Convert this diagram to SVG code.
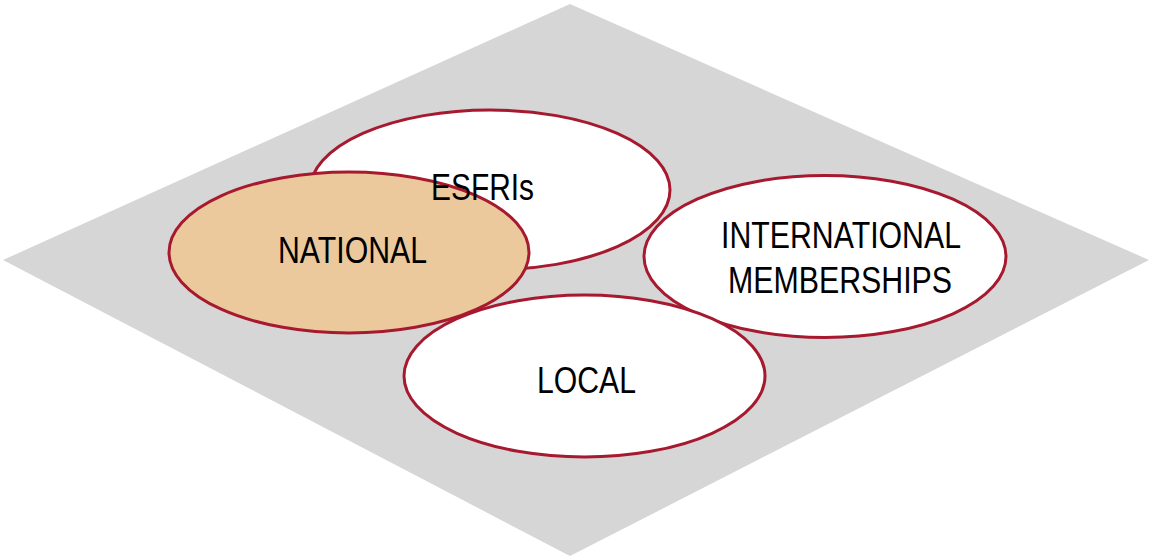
<svg xmlns="http://www.w3.org/2000/svg" width="1149" height="559" viewBox="0 0 1149 559">
<style>
.node{stroke:#A6192E;stroke-width:3;fill:#FFFFFF}
.nat{fill:#EBC99C}
.lbl{font-family:"Liberation Sans Narrow","Liberation Sans",Arial,sans-serif;font-size:37px;fill:#000000;text-anchor:middle}
</style>
<rect width="1149" height="559" fill="#FFFFFF"/>
<polygon id="plane" points="570,4 1149,260 570,556 3,260" fill="#D6D6D6"/>
<g id="connectors"/>
<g id="esfris">
<ellipse class="node" cx="490" cy="190" rx="180" ry="80"/>
</g>
<g id="international">
<ellipse class="node" cx="825" cy="256.5" rx="181" ry="81"/>
<text class="lbl" x="841" y="248" textLength="240" lengthAdjust="spacingAndGlyphs">INTERNATIONAL</text>
<text class="lbl" x="840" y="293" textLength="224" lengthAdjust="spacingAndGlyphs">MEMBERSHIPS</text>
</g>
<g id="local">
<ellipse class="node" cx="584.5" cy="376" rx="180.5" ry="81"/>
<text class="lbl" x="586.5" y="393" textLength="99" lengthAdjust="spacingAndGlyphs">LOCAL</text>
</g>
<g id="national">
<ellipse class="node nat" cx="349" cy="252.5" rx="180" ry="80.5"/>
<text class="lbl" x="352.5" y="263" textLength="149" lengthAdjust="spacingAndGlyphs">NATIONAL</text>
</g>
<g id="esfris-label">
<text class="lbl" x="482.5" y="200" textLength="103" lengthAdjust="spacingAndGlyphs">ESFRIs</text>
</g>
</svg>
